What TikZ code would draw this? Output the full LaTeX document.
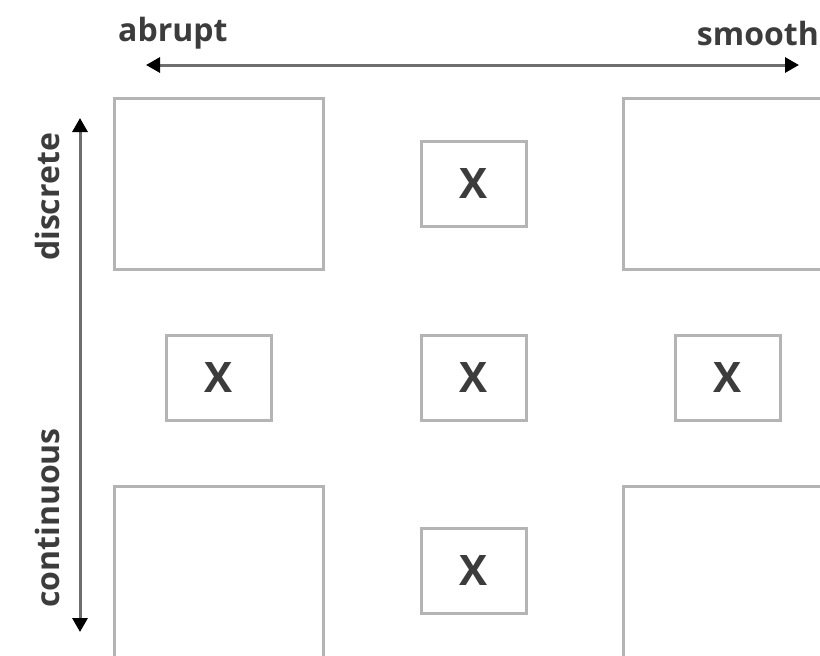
\documentclass[tikz,border=0pt]{standalone}
\usepackage{fontspec}
\setmainfont{Open Sans}
\usetikzlibrary{arrows.meta}
\definecolor{boxgray}{HTML}{B4B4B4}
\definecolor{axisgray}{HTML}{6E6E6E}
\definecolor{labelgray}{HTML}{3C3C3C}
\tikzset{
  bigbox/.style={draw=boxgray, line width=3.5pt, minimum width=209pt, minimum height=171pt, inner sep=0pt},
  markbox/.style={draw=boxgray, line width=3.5pt, minimum width=105pt, minimum height=85pt, inner sep=0pt,
    font=\fontsize{42}{48}\selectfont\bfseries, text=labelgray},
  axistip/.tip={Triangle[length=14pt,width=15pt,fill=black,color=black]},
  axis/.style={draw=axisgray, line width=3pt, {axistip}-{axistip}},
  axislabel/.style={font=\fontsize{32}{38}\selectfont\bfseries, text=labelgray, inner sep=0pt}
}
\begin{document}
\begin{tikzpicture}[x=1pt, y=-1pt]
\useasboundingbox (0,0) rectangle (820,656);
\clip (0,0) rectangle (820,656);
\fill[white] (0,0) rectangle (820,656);

% large corner panels
\node[bigbox] (tl) at (219,184) {};
\node[bigbox] (tr) at (728,184) {};
\node[bigbox] (bl) at (219,572) {};
\node[bigbox] (br) at (728,572) {};

% marked cells
\node[markbox] (tc) at (474,184) {X};
\node[markbox] (ml) at (219,378) {X};
\node[markbox] (mc) at (474,378) {X};
\node[markbox] (mr) at (728,378) {X};
\node[markbox] (bc) at (474,571) {X};

% horizontal axis
\coordinate (hL) at (146,65);
\coordinate (hR) at (799,65);
\draw[axis] (hL) -- (hR);
\node[axislabel, anchor=west] (abrupt) at (118,33) {abrupt};
\node[axislabel, anchor=east] (smooth) at (819,33) {smooth};

% vertical axis
\coordinate (vT) at (80,118);
\coordinate (vB) at (80,632);
\draw[axis] (vT) -- (vB);
\node[axislabel, rotate=90] (discrete) at (47,197) {discrete};
\node[axislabel, rotate=90] (continuous) at (47,518) {continuous};
\end{tikzpicture}
\end{document}
